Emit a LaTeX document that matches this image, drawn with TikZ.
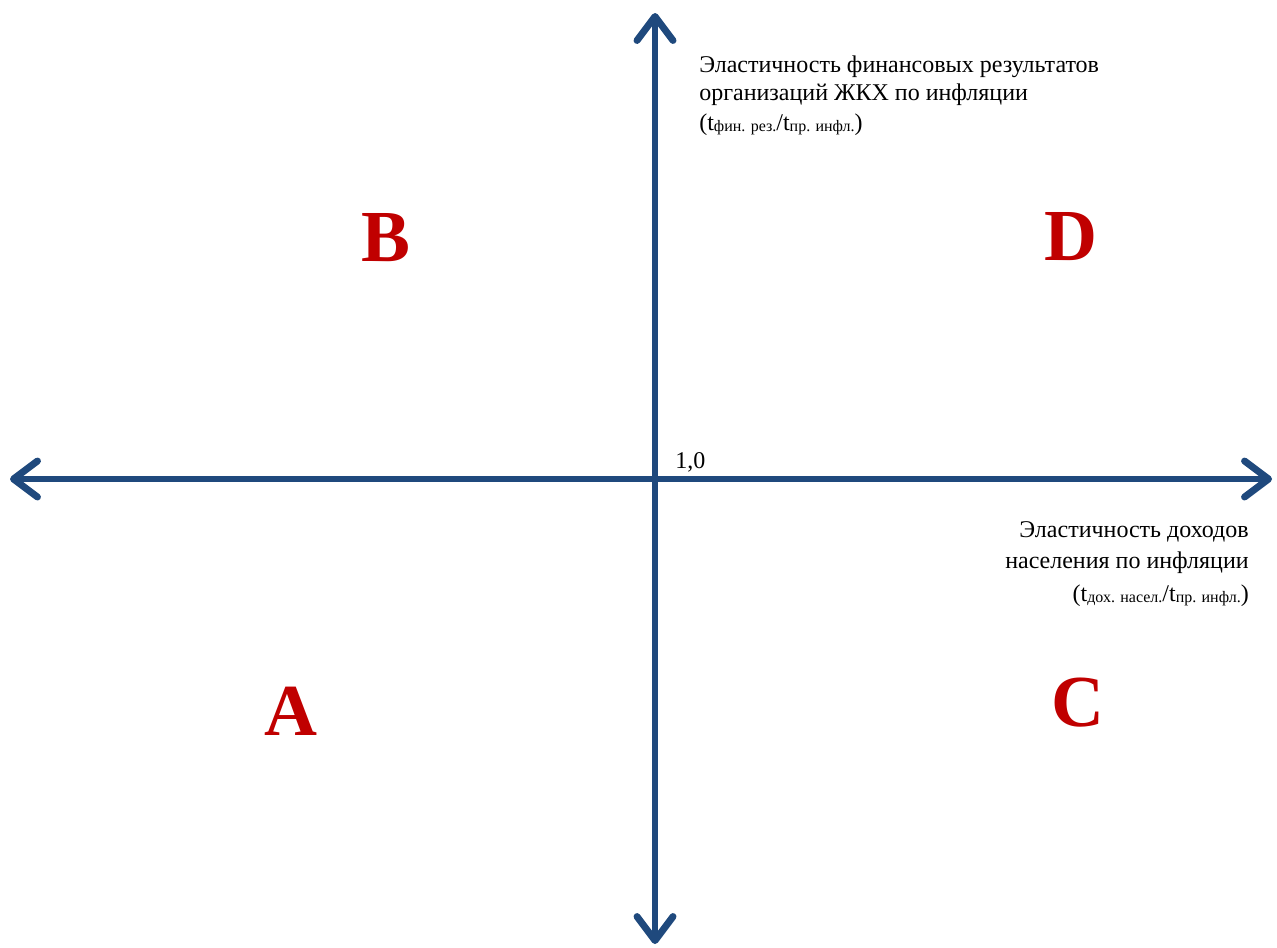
\documentclass[tikz,border=0pt]{standalone}
\usepackage{fontspec}
\setmainfont{Liberation Serif}
\usetikzlibrary{arrows.meta,positioning}

\definecolor{axisblue}{RGB}{31,73,125}
\definecolor{zonered}{RGB}{192,0,0}
\newcommand\lowidx[1]{\raisebox{-1.2pt}{\fontsize{12}{12}\selectfont #1}}

\begin{document}
\begin{tikzpicture}[
  x=0.75pt, y=-0.75pt,
  axis/.style={draw=axisblue, line width=5.2pt,
    {Straight Barb[round,length=18pt,width=27pt]}-{Straight Barb[round,length=18pt,width=27pt]}},
  zone/.style={text=zonered, font=\fontsize{55}{55}\selectfont\bfseries, inner sep=0pt},
  caption/.style={font=\fontsize{18}{20.5}\selectfont, inner sep=0pt}
]
\useasboundingbox (0,0) rectangle (1277,947);

% Axes
\coordinate (xl) at (10,479);
\coordinate (xr) at (1272,479);
\coordinate (yt) at (655,13);
\coordinate (yb) at (655,944);
\draw[axis] (xl) -- (xr);
\draw[axis] (yb) -- (yt);

% Origin and axis labels
\node[caption, anchor=base west] (orig) at (675,468) {1,0};
\node[caption, anchor=north west, align=left] (ylab) at (699,56)
  {Эластичность финансовых результатов\\организаций ЖКХ по инфляции\\[2pt]
   (t\lowidx{фин. рез.}/t\lowidx{пр. инфл.})};
\node[caption, anchor=north east, align=right, font=\fontsize{18}{23.5}\selectfont]
  (xlab) at (1249,521)
  {Эластичность доходов\\населения по инфляции\\[1pt]
   (t\lowidx{дох. насел.}/t\lowidx{пр. инфл.})};

% Quadrants
\node[zone] (qb) at (386,238) {B};
\node[zone] (qd) at (1071,237) {D};
\node[zone] (qa) at (291,711) {A};
\node[zone] (qc) at (1078,703) {C};

\end{tikzpicture}
\end{document}
